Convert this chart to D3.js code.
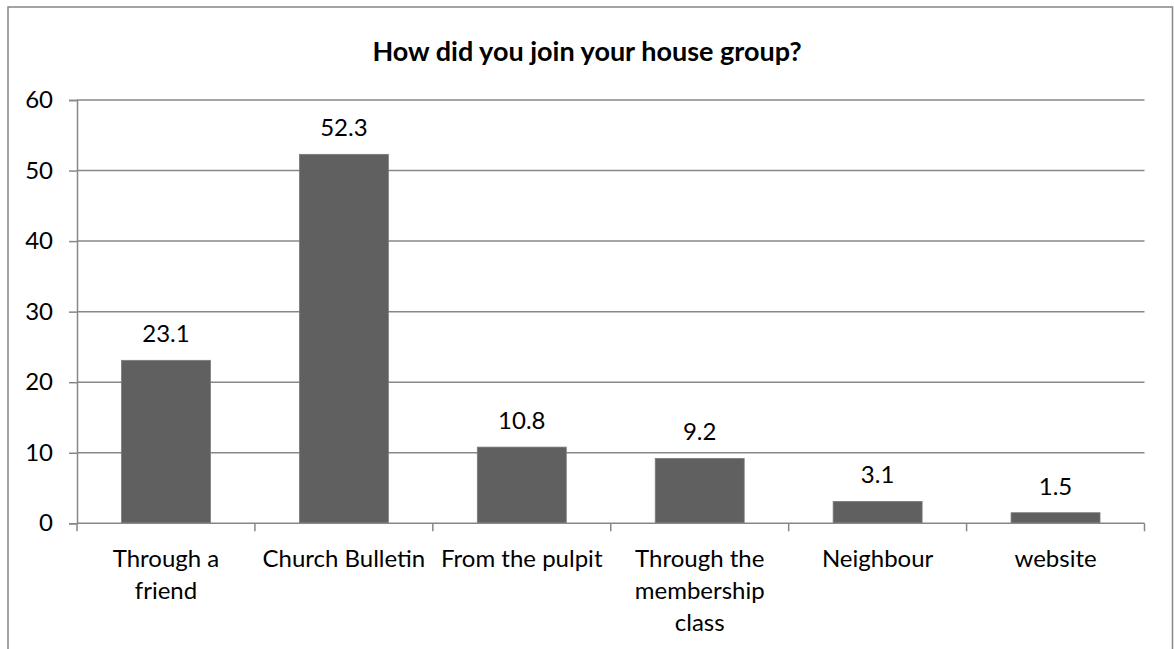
<!DOCTYPE html>
<html>
<head>
<meta charset="utf-8">
<script src="https://cdn.jsdelivr.net/npm/d3@7/dist/d3.min.js"></script>
<style>
  html, body { margin: 0; padding: 0; background: #fff; }
  svg { display: block; }
  text { font-family: Lato, "Open Sans", sans-serif; fill: #000; }
</style>
</head>
<body>
<svg id="chart" width="1174" height="649"></svg>
<script>
// Survey responses (percent)
const categories = ["Through a friend", "Church Bulletin", "From the pulpit",
                    "Through the membership class", "Neighbour", "website"];
const categoryLines = [["Through a", "friend"], ["Church Bulletin"], ["From the pulpit"],
                       ["Through the", "membership", "class"], ["Neighbour"], ["website"]];
const values = [23.1, 52.3, 10.8, 9.2, 3.1, 1.5];
const yTicks = [0, 10, 20, 30, 40, 50, 60];
const title = "How did you join your house group?";

const svg = d3.select("#chart");
const gridColor = "#878787";
const labelSize = "24px";

// outer chart frame (bottom edge runs past the page)
svg.append("rect")
  .attr("x", 8).attr("y", 7)
  .attr("width", 1164.5).attr("height", 700)
  .attr("fill", "#fff")
  .attr("stroke", gridColor).attr("stroke-width", 1.5);

const plot = { left: 77, right: 1144.5, top: 100, bottom: 523.3 };

const x = d3.scaleBand()
  .domain(categories)
  .range([plot.left, plot.right])
  .paddingInner(0.5).paddingOuter(0.25);

const xOuter = d3.scaleBand().domain(categories).range([plot.left, plot.right]);

const y = d3.scaleLinear().domain([0, 60]).range([plot.bottom, plot.top]);

// title
svg.append("text")
  .attr("x", 587).attr("y", 61)
  .attr("text-anchor", "middle")
  .style("font-weight", "bold")
  .style("font-size", "27px")
  .text(title);

// y axis
const yAxis = d3.axisLeft(y).tickValues(yTicks).tickSize(8).tickPadding(16).tickFormat(d3.format("d"));
const gy = svg.append("g").attr("transform", `translate(${plot.left},0)`).call(yAxis);
gy.select(".domain").attr("stroke", gridColor).attr("stroke-width", 1.5);
gy.selectAll(".tick line").attr("stroke", gridColor).attr("stroke-width", 1.5);
gy.selectAll(".tick text").style("font-size", labelSize).style("font-family", "Lato, sans-serif").attr("fill", "#000");

// horizontal gridlines
svg.append("g").selectAll("line")
  .data(yTicks.filter(d => d > 0))
  .join("line")
  .attr("x1", plot.left).attr("x2", plot.right)
  .attr("y1", d => y(d)).attr("y2", d => y(d))
  .attr("stroke", gridColor).attr("stroke-width", 1.5);

// bars
svg.append("g").selectAll("rect")
  .data(values)
  .join("rect")
  .attr("x", (d, i) => x(categories[i]))
  .attr("width", x.bandwidth())
  .attr("y", d => y(d))
  .attr("height", d => y(0) - y(d))
  .attr("fill", "#606060")
  .attr("stroke", "#7c7c7c").attr("stroke-width", 0.8);

// value labels
svg.append("g").selectAll("text")
  .data(values)
  .join("text")
  .attr("x", (d, i) => x(categories[i]) + x.bandwidth() / 2)
  .attr("y", d => y(d) - 18)
  .attr("text-anchor", "middle")
  .style("font-size", labelSize)
  .text(d => d3.format(".1f")(d));

// x axis baseline and category boundary ticks
svg.append("line")
  .attr("x1", plot.left).attr("x2", plot.right)
  .attr("y1", y(0)).attr("y2", y(0))
  .attr("stroke", gridColor).attr("stroke-width", 1.5);

const boundaries = categories.map(c => xOuter(c)).concat([plot.right]);
svg.append("g").selectAll("line")
  .data(boundaries)
  .join("line")
  .attr("x1", d => d).attr("x2", d => d)
  .attr("y1", y(0)).attr("y2", y(0) + 8)
  .attr("stroke", gridColor).attr("stroke-width", 1.5);

// category labels
const labels = svg.append("g").selectAll("text")
  .data(categories)
  .join("text")
  .attr("x", d => xOuter(d) + xOuter.bandwidth() / 2)
  .attr("y", 567)
  .attr("text-anchor", "middle")
  .style("font-size", labelSize);
labels.selectAll("tspan")
  .data((d, i) => categoryLines[i])
  .join("tspan")
  .attr("x", function () { return d3.select(this.parentNode).attr("x"); })
  .attr("dy", (d, j) => j === 0 ? 0 : 32)
  .text(d => d);
</script>
</body>
</html>
